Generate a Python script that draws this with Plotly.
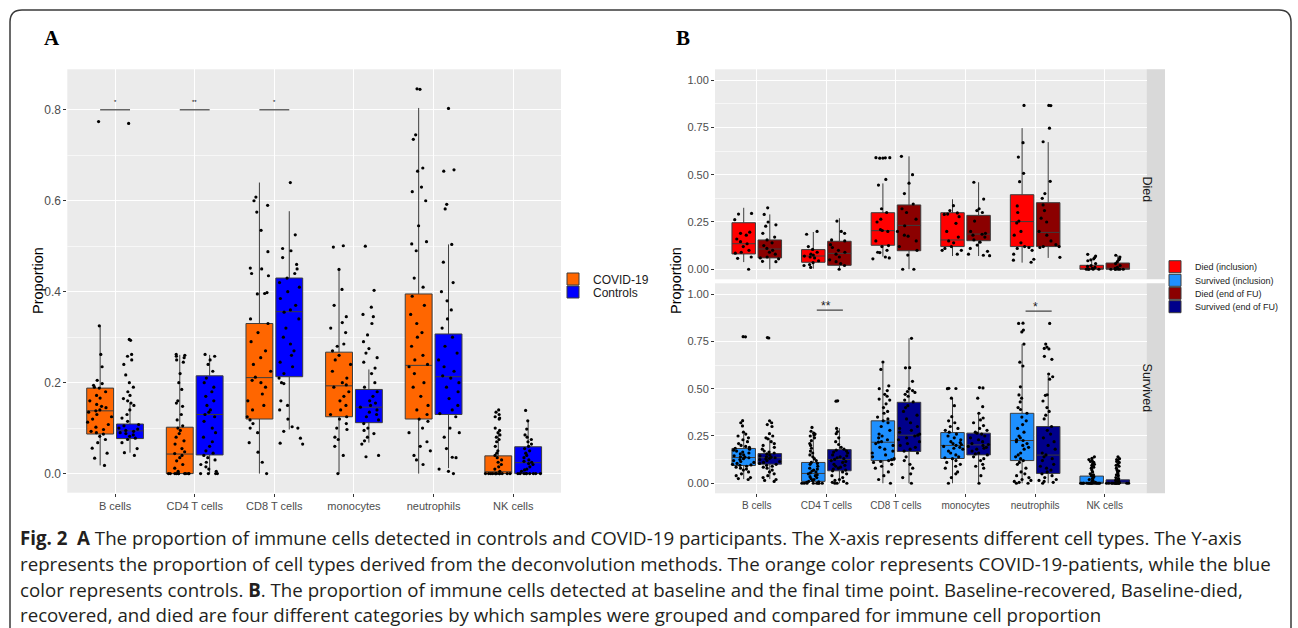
import plotly.graph_objects as go

W, H = 1298, 628

categories = ["B cells", "CD4 T cells", "CD8 T cells", "monocytes", "neutrophils", "NK cells"]

# ---------------- Panel A : box statistics ----------------
a_covid_low = [0.018, 0.0, 0.0, 0.0, 0.0, 0.0]
a_covid_q1 = [0.087, 0.0, 0.120, 0.125, 0.120, 0.0]
a_covid_med = [0.138, 0.043, 0.211, 0.193, 0.238, 0.004]
a_covid_q3 = [0.188, 0.102, 0.330, 0.267, 0.395, 0.039]
a_covid_high = [0.325, 0.261, 0.640, 0.449, 0.804, 0.090]

a_ctrl_low = [0.046, 0.0, 0.097, 0.068, 0.012, 0.0]
a_ctrl_q1 = [0.077, 0.041, 0.213, 0.112, 0.130, 0.0]
a_ctrl_med = [0.094, 0.130, 0.356, 0.146, 0.213, 0.024]
a_ctrl_q3 = [0.109, 0.215, 0.430, 0.185, 0.307, 0.059]
a_ctrl_high = [0.155, 0.261, 0.577, 0.229, 0.504, 0.116]

# Panel A : sample points
a_covid_pts = [
    [0.774, 0.325, 0.262, 0.235, 0.205, 0.198, 0.194, 0.19, 0.188, 0.18, 0.172, 0.166, 0.16, 0.152, 0.148, 0.145, 0.14, 0.138, 0.135, 0.13, 0.125, 0.12, 0.113, 0.108, 0.102, 0.097, 0.093, 0.09, 0.087, 0.082, 0.075, 0.068, 0.056, 0.045, 0.034, 0.018],
    [0.262, 0.26, 0.258, 0.255, 0.25, 0.245, 0.22, 0.2, 0.185, 0.16, 0.155, 0.148, 0.13, 0.118, 0.105, 0.1, 0.095, 0.088, 0.08, 0.072, 0.065, 0.055, 0.048, 0.044, 0.04, 0.035, 0.028, 0.02, 0.012, 0.005, 0, 0, 0, 0, 0, 0, 0, 0, 0, 0],
    [0.608, 0.6, 0.59, 0.575, 0.535, 0.488, 0.452, 0.45, 0.44, 0.435, 0.398, 0.396, 0.395, 0.34, 0.33, 0.31, 0.29, 0.27, 0.255, 0.24, 0.225, 0.212, 0.205, 0.2, 0.19, 0.175, 0.16, 0.15, 0.14, 0.125, 0.118, 0.11, 0.1, 0.09, 0.068, 0.047, 0.025, 0.0],
    [0.501, 0.498, 0.449, 0.405, 0.37, 0.345, 0.332, 0.32, 0.31, 0.285, 0.28, 0.27, 0.26, 0.25, 0.24, 0.225, 0.21, 0.2, 0.195, 0.19, 0.18, 0.17, 0.16, 0.15, 0.14, 0.13, 0.125, 0.12, 0.11, 0.1, 0.097, 0.08, 0.075, 0.06, 0.04, 0.0],
    [0.846, 0.845, 0.745, 0.735, 0.672, 0.665, 0.63, 0.62, 0.6, 0.545, 0.51, 0.505, 0.49, 0.43, 0.41, 0.39, 0.37, 0.35, 0.33, 0.31, 0.3, 0.28, 0.26, 0.25, 0.24, 0.235, 0.22, 0.2, 0.19, 0.17, 0.15, 0.14, 0.13, 0.12, 0.115, 0.1, 0.09, 0.07, 0.06, 0.05, 0.04, 0.03, 0.02],
    [0.14, 0.135, 0.13, 0.125, 0.122, 0.12, 0.1, 0.095, 0.09, 0.085, 0.08, 0.075, 0.07, 0.06, 0.05, 0.045, 0.04, 0.035, 0.03, 0.025, 0.02, 0.015, 0.01, 0.005, 0, 0, 0, 0, 0, 0, 0, 0, 0, 0, 0, 0],
]
a_ctrl_pts = [
    [0.77, 0.295, 0.293, 0.262, 0.258, 0.25, 0.24, 0.217, 0.2, 0.19, 0.18, 0.172, 0.165, 0.16, 0.155, 0.15, 0.14, 0.13, 0.122, 0.115, 0.108, 0.105, 0.1, 0.098, 0.095, 0.093, 0.09, 0.088, 0.085, 0.082, 0.078, 0.075, 0.068, 0.055, 0.046, 0.04],
    [0.262, 0.258, 0.25, 0.24, 0.225, 0.21, 0.2, 0.19, 0.18, 0.17, 0.16, 0.15, 0.14, 0.135, 0.13, 0.125, 0.115, 0.1, 0.09, 0.08, 0.07, 0.06, 0.05, 0.045, 0.04, 0.035, 0.03, 0.025, 0.02, 0.015, 0.01, 0.005, 0, 0, 0, 0],
    [0.64, 0.525, 0.495, 0.49, 0.475, 0.46, 0.45, 0.44, 0.43, 0.42, 0.41, 0.4, 0.385, 0.37, 0.36, 0.355, 0.34, 0.32, 0.3, 0.285, 0.27, 0.26, 0.245, 0.235, 0.22, 0.21, 0.2, 0.198, 0.16, 0.15, 0.14, 0.12, 0.103, 0.1, 0.093, 0.078, 0.067, 0.065],
    [0.5, 0.403, 0.366, 0.35, 0.345, 0.33, 0.305, 0.29, 0.275, 0.265, 0.255, 0.245, 0.232, 0.22, 0.2, 0.19, 0.18, 0.17, 0.16, 0.155, 0.15, 0.146, 0.14, 0.135, 0.13, 0.125, 0.118, 0.11, 0.1, 0.095, 0.088, 0.08, 0.072, 0.065, 0.04, 0.037],
    [0.803, 0.668, 0.665, 0.592, 0.582, 0.504, 0.465, 0.42, 0.4, 0.38, 0.36, 0.34, 0.32, 0.3, 0.28, 0.265, 0.25, 0.235, 0.225, 0.215, 0.21, 0.2, 0.19, 0.18, 0.165, 0.15, 0.14, 0.132, 0.125, 0.1, 0.09, 0.08, 0.055, 0.036, 0.035, 0.01, 0.005, 0.0],
    [0.139, 0.116, 0.098, 0.085, 0.08, 0.075, 0.07, 0.065, 0.06, 0.055, 0.05, 0.045, 0.04, 0.035, 0.03, 0.027, 0.025, 0.022, 0.02, 0.015, 0.01, 0.008, 0.005, 0, 0, 0, 0, 0, 0, 0, 0, 0],
]

# ---------------- Panel B : box statistics ----------------
b_died_inc_low = [0.038, 0.003, 0.067, 0.070, 0.035, 0.0]
b_died_inc_q1 = [0.081, 0.037, 0.127, 0.120, 0.120, 0.0]
b_died_inc_med = [0.135, 0.070, 0.204, 0.155, 0.252, 0.004]
b_died_inc_q3 = [0.246, 0.104, 0.299, 0.299, 0.394, 0.021]
b_died_inc_high = [0.325, 0.197, 0.454, 0.370, 0.746, 0.050]

b_died_end_low = [0.0, 0.0, 0.0, 0.070, 0.060, 0.0]
b_died_end_q1 = [0.060, 0.021, 0.098, 0.151, 0.120, 0.0]
b_died_end_med = [0.107, 0.084, 0.232, 0.186, 0.195, 0.005]
b_died_end_q3 = [0.155, 0.148, 0.340, 0.285, 0.352, 0.033]
b_died_end_high = [0.290, 0.270, 0.597, 0.460, 0.672, 0.074]

b_surv_inc_low = [0.022, 0.0, 0.0, 0.0, 0.0, 0.0]
b_surv_inc_q1 = [0.094, 0.010, 0.120, 0.131, 0.120, 0.0]
b_surv_inc_med = [0.136, 0.052, 0.217, 0.200, 0.226, 0.0]
b_surv_inc_q3 = [0.184, 0.110, 0.330, 0.268, 0.370, 0.038]
b_surv_inc_high = [0.260, 0.273, 0.641, 0.450, 0.736, 0.090]

b_surv_end_low = [0.022, 0.0, 0.0, 0.0, 0.0, 0.0]
b_surv_end_q1 = [0.101, 0.066, 0.168, 0.150, 0.052, 0.0]
b_surv_end_med = [0.135, 0.126, 0.254, 0.203, 0.149, 0.003]
b_surv_end_q3 = [0.157, 0.178, 0.428, 0.265, 0.300, 0.018]
b_surv_end_high = [0.238, 0.291, 0.766, 0.370, 0.567, 0.045]

# Panel B : sample points
b_died_inc_pts = [
    [0.295, 0.292, 0.262, 0.196, 0.19, 0.18, 0.16, 0.146, 0.135, 0.12, 0.1, 0.09, 0.085, 0.065, 0.058, 0.0],
    [0.2, 0.185, 0.12, 0.105, 0.09, 0.08, 0.075, 0.07, 0.065, 0.06, 0.045, 0.035, 0.025, 0.02, 0.01],
    [0.59, 0.59, 0.589, 0.588, 0.587, 0.475, 0.445, 0.32, 0.3, 0.265, 0.25, 0.21, 0.205, 0.2, 0.15, 0.125, 0.12, 0.1, 0.09, 0.088, 0.065, 0.06, 0.055],
    [0.336, 0.31, 0.298, 0.292, 0.29, 0.278, 0.243, 0.2, 0.17, 0.15, 0.14, 0.12, 0.11, 0.1, 0.1, 0.08],
    [0.866, 0.669, 0.593, 0.507, 0.463, 0.335, 0.3, 0.255, 0.245, 0.2, 0.18, 0.14, 0.12, 0.115, 0.11, 0.1, 0.08, 0.053, 0.048, 0.037],
    [0.079, 0.07, 0.062, 0.055, 0.05, 0.045, 0.03, 0.02, 0.015, 0.01, 0.005, 0, 0, 0, 0, 0],
]
b_died_end_pts = [
    [0.325, 0.29, 0.25, 0.235, 0.228, 0.19, 0.17, 0.155, 0.14, 0.125, 0.11, 0.1, 0.09, 0.08, 0.065, 0.06, 0.055, 0.042, 0.04],
    [0.255, 0.2, 0.19, 0.155, 0.15, 0.13, 0.115, 0.1, 0.09, 0.08, 0.065, 0.05, 0.04, 0.03, 0.02, 0.0],
    [0.597, 0.5, 0.455, 0.4, 0.345, 0.32, 0.3, 0.265, 0.23, 0.2, 0.18, 0.175, 0.15, 0.12, 0.1, 0.075, 0.0, 0.0],
    [0.46, 0.371, 0.32, 0.31, 0.3, 0.255, 0.2, 0.19, 0.185, 0.18, 0.17, 0.155, 0.143, 0.128, 0.11, 0.095, 0.08, 0.074, 0.072],
    [0.866, 0.865, 0.746, 0.674, 0.465, 0.4, 0.375, 0.34, 0.31, 0.27, 0.25, 0.2, 0.18, 0.15, 0.13, 0.12, 0.12, 0.115, 0.063],
    [0.074, 0.065, 0.056, 0.05, 0.04, 0.03, 0.02, 0.01, 0.005, 0, 0, 0, 0, 0, 0],
]
b_surv_inc_pts = [
    [0.775, 0.774, 0.331, 0.32, 0.303, 0.27, 0.26, 0.25, 0.24, 0.23, 0.22, 0.21, 0.2, 0.195, 0.19, 0.185, 0.18, 0.175, 0.17, 0.165, 0.16, 0.155, 0.15, 0.145, 0.14, 0.138, 0.135, 0.13, 0.125, 0.12, 0.115, 0.11, 0.105, 0.1, 0.097, 0.095, 0.09, 0.085, 0.08, 0.075, 0.07, 0.06, 0.05, 0.04, 0.03, 0.025, 0.02],
    [0.295, 0.275, 0.265, 0.26, 0.255, 0.25, 0.24, 0.225, 0.21, 0.2, 0.185, 0.17, 0.16, 0.15, 0.14, 0.13, 0.12, 0.11, 0.105, 0.1, 0.09, 0.08, 0.075, 0.07, 0.065, 0.06, 0.055, 0.05, 0.045, 0.04, 0.035, 0.03, 0.025, 0.02, 0.015, 0.01, 0.008, 0.005, 0, 0, 0, 0, 0, 0, 0, 0],
    [0.641, 0.602, 0.515, 0.5, 0.49, 0.47, 0.46, 0.445, 0.44, 0.42, 0.4, 0.38, 0.37, 0.35, 0.34, 0.33, 0.32, 0.3, 0.28, 0.26, 0.25, 0.24, 0.23, 0.22, 0.217, 0.21, 0.2, 0.19, 0.18, 0.17, 0.16, 0.15, 0.14, 0.13, 0.125, 0.12, 0.115, 0.11, 0.1, 0.09, 0.08, 0.06, 0.04, 0.02, 0.0],
    [0.502, 0.501, 0.5, 0.45, 0.41, 0.352, 0.33, 0.32, 0.3, 0.29, 0.28, 0.27, 0.26, 0.25, 0.24, 0.23, 0.22, 0.215, 0.21, 0.205, 0.2, 0.195, 0.19, 0.185, 0.18, 0.17, 0.16, 0.15, 0.14, 0.135, 0.13, 0.12, 0.11, 0.1, 0.09, 0.08, 0.06, 0.05, 0.03, 0.0],
    [0.846, 0.845, 0.81, 0.8, 0.736, 0.64, 0.62, 0.51, 0.467, 0.45, 0.43, 0.4, 0.39, 0.37, 0.35, 0.33, 0.31, 0.29, 0.27, 0.25, 0.24, 0.23, 0.226, 0.22, 0.21, 0.2, 0.19, 0.18, 0.16, 0.15, 0.14, 0.13, 0.12, 0.11, 0.1, 0.08, 0.06, 0.05, 0.04, 0.03, 0.02, 0.015, 0.01, 0.005, 0.0, 0.0],
    [0.14, 0.132, 0.125, 0.12, 0.115, 0.11, 0.105, 0.1, 0.095, 0.09, 0.085, 0.08, 0.07, 0.06, 0.05, 0.045, 0.04, 0.035, 0.03, 0.025, 0.02, 0.015, 0.01, 0.005, 0, 0, 0, 0, 0, 0, 0, 0, 0, 0, 0, 0, 0, 0, 0, 0],
]
b_surv_end_pts = [
    [0.77, 0.768, 0.33, 0.32, 0.31, 0.3, 0.262, 0.25, 0.24, 0.235, 0.22, 0.21, 0.2, 0.19, 0.18, 0.17, 0.165, 0.16, 0.155, 0.15, 0.145, 0.14, 0.138, 0.135, 0.132, 0.13, 0.125, 0.12, 0.115, 0.11, 0.105, 0.1, 0.095, 0.09, 0.085, 0.08, 0.07, 0.06, 0.05, 0.04, 0.03, 0.02, 0.015, 0.01],
    [0.436, 0.434, 0.29, 0.273, 0.262, 0.24, 0.22, 0.205, 0.19, 0.18, 0.175, 0.17, 0.165, 0.16, 0.15, 0.145, 0.14, 0.135, 0.13, 0.126, 0.12, 0.115, 0.11, 0.1, 0.095, 0.09, 0.085, 0.08, 0.075, 0.07, 0.066, 0.06, 0.05, 0.04, 0.03, 0.02, 0.015, 0.01, 0.005, 0, 0, 0],
    [0.766, 0.611, 0.61, 0.539, 0.5, 0.49, 0.485, 0.48, 0.47, 0.46, 0.44, 0.43, 0.41, 0.4, 0.38, 0.36, 0.34, 0.32, 0.3, 0.29, 0.28, 0.27, 0.26, 0.254, 0.25, 0.24, 0.23, 0.22, 0.21, 0.2, 0.19, 0.18, 0.17, 0.16, 0.14, 0.12, 0.1, 0.08, 0.05, 0.03, 0.0],
    [0.506, 0.504, 0.45, 0.405, 0.37, 0.345, 0.335, 0.32, 0.305, 0.29, 0.28, 0.27, 0.265, 0.26, 0.25, 0.24, 0.23, 0.22, 0.21, 0.205, 0.2, 0.195, 0.19, 0.185, 0.18, 0.17, 0.16, 0.155, 0.15, 0.14, 0.13, 0.12, 0.1, 0.09, 0.08, 0.04, 0.0],
    [0.845, 0.736, 0.72, 0.713, 0.71, 0.671, 0.655, 0.577, 0.563, 0.55, 0.468, 0.465, 0.435, 0.4, 0.38, 0.36, 0.34, 0.3, 0.28, 0.26, 0.24, 0.22, 0.2, 0.18, 0.16, 0.15, 0.14, 0.13, 0.12, 0.1, 0.09, 0.08, 0.07, 0.06, 0.05, 0.04, 0.03, 0.02, 0.015, 0.01, 0.005, 0.0],
    [0.14, 0.13, 0.125, 0.12, 0.115, 0.11, 0.1, 0.095, 0.09, 0.08, 0.07, 0.065, 0.06, 0.05, 0.045, 0.04, 0.03, 0.025, 0.02, 0.015, 0.01, 0.005, 0.003, 0, 0, 0, 0, 0, 0, 0, 0, 0, 0, 0, 0, 0],
]

# significance annotations
sig_a_cats = ["B cells", "CD4 T cells", "CD8 T cells"]
sig_a_level = 0.80
sig_a_labels = ["*", "**", "*"]
sig_b_cats = ["CD4 T cells", "neutrophils"]
sig_b_levels = [0.915, 0.91]
sig_b_labels = ["**", "*"]

a_ticks = [0.0, 0.2, 0.4, 0.6, 0.8]
a_minor = [0.1, 0.3, 0.5, 0.7]
b_ticks = [0.0, 0.25, 0.5, 0.75, 1.0]
b_minor = [0.125, 0.375, 0.625, 0.875]

legend_a_names = ["COVID-19", "Controls"]
legend_b_names = ["Died (inclusion)", "Survived (inclusion)", "Died (end of FU)", "Survived (end of FU)"]

caption_lines = [
    "<b>Fig. 2</b>  <b>A</b> The proportion of immune cells detected in controls and COVID-19 participants. The X-axis represents different cell types. The Y-axis",
    "represents the proportion of cell types derived from the deconvolution methods. The orange color represents COVID-19-patients, while the blue",
    "color represents controls. <b>B</b>. The proportion of immune cells detected at baseline and the final time point. Baseline-recovered, Baseline-died,",
    "recovered, and died are four different categories by which samples were grouped and compared for immune cell proportion",
]

# ---------------- layout helpers (pixel -> paper) ----------------
def px(x):
    return x / W


def py(y):
    return 1 - y / H


FONT = "Liberation Sans, Arial, sans-serif"
GRID = "white"
BG = "#ebebeb"
TICKC = "#4d4d4d"

fig = go.Figure()


def add_box(name, color, low, q1, med, q3, high, pts, xa, ya, legend, agroup, ogroup):
    fig.add_trace(go.Box(
        name=name, x=categories, y=pts,
        lowerfence=low, q1=q1, median=med, q3=q3, upperfence=high,
        boxpoints="all", jitter=1.0, pointpos=0,
        fillcolor=color, line=dict(color="#3d3d3d", width=1),
        marker=dict(color="black", size=3.2, line=dict(width=0)),
        whiskerwidth=0, xaxis=xa, yaxis=ya, legend=legend,
        alignmentgroup=agroup, offsetgroup=ogroup, hoverinfo="skip",
    ))


add_box(legend_a_names[0], "#FF6600", a_covid_low, a_covid_q1, a_covid_med, a_covid_q3, a_covid_high,
        a_covid_pts, "x", "y", "legend", "A", "a1")
add_box(legend_a_names[1], "#0000FF", a_ctrl_low, a_ctrl_q1, a_ctrl_med, a_ctrl_q3, a_ctrl_high,
        a_ctrl_pts, "x", "y", "legend2", "A", "a2")
add_box(legend_b_names[0], "#FF0000", b_died_inc_low, b_died_inc_q1, b_died_inc_med, b_died_inc_q3,
        b_died_inc_high, b_died_inc_pts, "x2", "y2", "legend3", "BD", "b1")
add_box(legend_b_names[2], "#8B0000", b_died_end_low, b_died_end_q1, b_died_end_med, b_died_end_q3,
        b_died_end_high, b_died_end_pts, "x2", "y2", "legend5", "BD", "b2")
add_box(legend_b_names[1], "#1E90FF", b_surv_inc_low, b_surv_inc_q1, b_surv_inc_med, b_surv_inc_q3,
        b_surv_inc_high, b_surv_inc_pts, "x3", "y3", "legend4", "BS", "b1")
add_box(legend_b_names[3], "#00008B", b_surv_end_low, b_surv_end_q1, b_surv_end_med, b_surv_end_q3,
        b_surv_end_high, b_surv_end_pts, "x3", "y3", "legend6", "BS", "b2")

# ---------------- axes ----------------
A_L, A_R, A_T, A_B = 67.3, 561.0, 69.3, 492.7
B_L, B_R = 715.0, 1146.5
BT_T, BT_B = 69.3, 279.3
BB_T, BB_B = 283.3, 493.3
STRIP_R = 1165.0


def xaxis_cfg(dom, anchor, labels, size):
    return dict(domain=[px(dom[0]), px(dom[1])], anchor=anchor, type="category",
                categoryorder="array", categoryarray=categories,
                range=[-0.6, 5.6], showgrid=True, gridcolor=GRID, gridwidth=1.3,
                zeroline=False, showline=False,
                ticks="outside" if labels else "", ticklen=3, tickwidth=1, tickcolor="#333333",
                showticklabels=labels, tickfont=dict(family=FONT, size=size, color=TICKC))


def yaxis_cfg(dom, anchor, rng, ticks, minor, fmt, size):
    return dict(domain=[py(dom[1]), py(dom[0])], anchor=anchor, range=rng,
                tickmode="array", tickvals=ticks, ticktext=[fmt.format(t) for t in ticks],
                showgrid=True, gridcolor=GRID, gridwidth=1.3, zeroline=False, showline=False,
                ticks="outside", ticklen=3, tickwidth=1, tickcolor="#333333",
                tickfont=dict(family=FONT, size=size, color=TICKC),
                minor=dict(tickmode="array", tickvals=minor, showgrid=True,
                           gridcolor="#f7f7f7", gridwidth=0.7, ticks=""))


fig.update_layout(
    xaxis=xaxis_cfg((A_L, A_R), "y", True, 11),
    yaxis=yaxis_cfg((A_T, A_B), "x", [-0.042, 0.889], a_ticks, a_minor, "{:.1f}", 12),
    xaxis2=xaxis_cfg((B_L, B_R), "y2", False, 10),
    yaxis2=yaxis_cfg((BT_T, BT_B), "x2", [-0.053, 1.057], b_ticks, b_minor, "{:.2f}", 11),
    xaxis3=xaxis_cfg((B_L, B_R), "y3", True, 10),
    yaxis3=yaxis_cfg((BB_T, BB_B), "x3", [-0.053, 1.057], b_ticks, b_minor, "{:.2f}", 11),
)


def legend_cfg(text_x, yc, size):
    return dict(x=px(text_x - 40), y=py(yc), xanchor="left", yanchor="middle",
                bgcolor="rgba(0,0,0,0)", borderwidth=0, itemwidth=30,
                font=dict(family=FONT, size=size, color="#1a1a1a"))


fig.update_layout(
    legend=legend_cfg(593, 279, 12),
    legend2=legend_cfg(593, 292, 12),
    legend3=legend_cfg(1195, 266.7, 9),
    legend4=legend_cfg(1195, 280.3, 9),
    legend5=legend_cfg(1195, 293.3, 9),
    legend6=legend_cfg(1195, 306.7, 9),
)

shapes = []
annotations = []

# outer rounded frame
r = 12
fl, ft, fr = 10, 10, 1291
path = (f"M {px(fl)},{py(H + 5)} L {px(fl)},{py(ft + r)} Q {px(fl)},{py(ft)} {px(fl + r)},{py(ft)} "
        f"L {px(fr - r)},{py(ft)} Q {px(fr)},{py(ft)} {px(fr)},{py(ft + r)} L {px(fr)},{py(H + 5)}")
shapes.append(dict(type="path", path=path, xref="paper", yref="paper",
                   line=dict(color="#3a3a3a", width=1.5)))

# facet strips
for (t, b), label in [((BT_T, BT_B), "Died"), ((BB_T, BB_B), "Survived")]:
    shapes.append(dict(type="rect", xref="paper", yref="paper", x0=px(B_R), x1=px(STRIP_R),
                       y0=py(b), y1=py(t), fillcolor="#d9d9d9", line=dict(width=0), layer="below"))
    annotations.append(dict(x=px((B_R + STRIP_R) / 2), y=py((t + b) / 2), xref="paper", yref="paper",
                            text=label, textangle=90, showarrow=False,
                            font=dict(family=FONT, size=12.5, color="#1a1a1a")))

# significance bars
DODGE = 0.1875
for cat, lab in zip(sig_a_cats, sig_a_labels):
    i = categories.index(cat)
    shapes.append(dict(type="line", xref="x", yref="y", x0=i - DODGE, x1=i + DODGE,
                       y0=sig_a_level, y1=sig_a_level, line=dict(color="#666666", width=1.5)))
    annotations.append(dict(x=i, y=sig_a_level, xref="x", yref="y", text=lab, showarrow=False,
                            yanchor="bottom", yshift=3, font=dict(family=FONT, size=6, color="black")))
for cat, lev, lab in zip(sig_b_cats, sig_b_levels, sig_b_labels):
    i = categories.index(cat)
    shapes.append(dict(type="line", xref="x3", yref="y3", x0=i - DODGE + 0.05, x1=i + DODGE + 0.05,
                       y0=lev, y1=lev, line=dict(color="#444444", width=1.2)))
    annotations.append(dict(x=i, y=lev, xref="x3", yref="y3", text=lab, showarrow=False,
                            yanchor="middle", yshift=4, font=dict(family=FONT, size=12, color="#1a1a1a")))

# panel letters
annotations.append(dict(x=px(42), y=py(38), xref="paper", yref="paper", text="<b>A</b>", showarrow=False,
                        xanchor="left", yanchor="middle",
                        font=dict(family="Liberation Serif, Times New Roman, serif", size=21, color="black")))
annotations.append(dict(x=px(674), y=py(38), xref="paper", yref="paper", text="<b>B</b>", showarrow=False,
                        xanchor="left", yanchor="middle",
                        font=dict(family="Liberation Serif, Times New Roman, serif", size=21, color="black")))

# y-axis titles
for xc in (28, 676):
    annotations.append(dict(x=px(xc), y=py(281), xref="paper", yref="paper", text="Proportion",
                            textangle=-90, showarrow=False,
                            font=dict(family=FONT, size=14.5, color="black")))

# caption
for k, (line, yc) in enumerate(zip(caption_lines, [537, 563, 589, 614])):
    annotations.append(dict(x=px(18), y=py(yc), xref="paper", yref="paper", text=line, showarrow=False,
                            xanchor="left", yanchor="middle",
                            font=dict(family="Open Sans, sans-serif", size=18.7, color="#231f20")))

fig.update_layout(
    width=W, height=H, autosize=False,
    margin=dict(l=0, r=0, t=0, b=0),
    paper_bgcolor="white", plot_bgcolor=BG,
    boxmode="group", boxgap=0.25, boxgroupgap=0.1,
    shapes=shapes, annotations=annotations,
    showlegend=True,
)

fig.write_html("out.html", config={"displayModeBar": False},
               post_script="document.body.style.margin='0';")
